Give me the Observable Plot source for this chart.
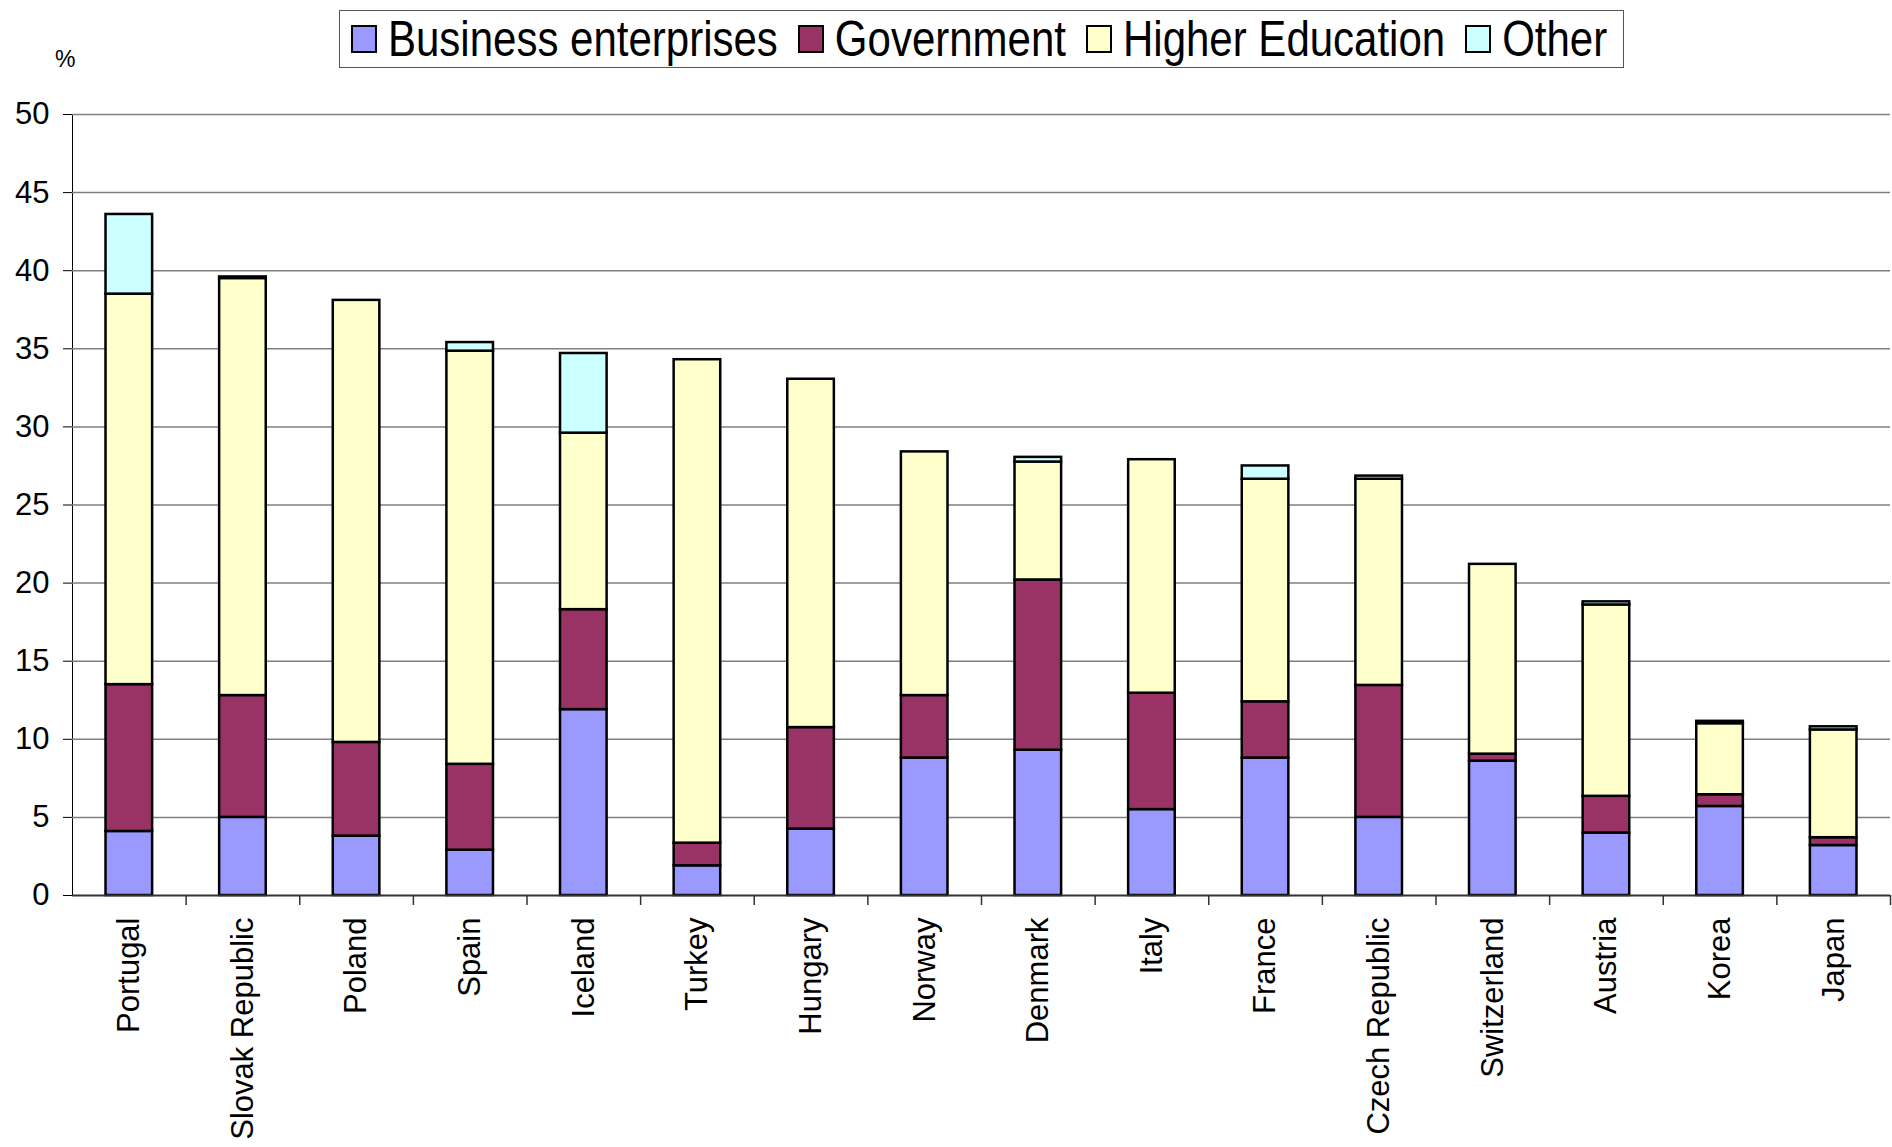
<!DOCTYPE html>
<html>
<head>
<meta charset="utf-8">
<script src="https://cdn.jsdelivr.net/npm/d3@7"></script>
<script src="https://cdn.jsdelivr.net/npm/@observablehq/plot@0.6"></script>
<style>
  body { margin: 0; background: #fff; font-family: "Liberation Sans", Arial, sans-serif; }
  #wrap { position: relative; width: 1892px; }
  #head { position: relative; height: 72px; }
  #pct { position: absolute; left: 55px; top: 46px; font-size: 23px; color: #000; }
  #legend { position: absolute; left: 339px; top: 10px; width: 1285px; height: 58px;
            border: 1.5px solid #555; box-sizing: border-box; display: flex; align-items: center;
            padding-left: 11px; }
  .item { display: flex; align-items: center; margin-right: 20px; }
  .sw { width: 26px; height: 28px; border: 2px solid #000; box-sizing: border-box; margin-right: 11px; }
  .lt { font-size: 42px; line-height: 1; display: inline-block; transform: scaleY(1.18); color: #000; white-space: nowrap; }
</style>
</head>
<body>
<div id="wrap">
  <div id="head">
    <div id="pct">%</div>
    <div id="legend"></div>
  </div>
  <div id="chart"></div>
</div>
<script>
const countries = ["Portugal","Slovak Republic","Poland","Spain","Iceland","Turkey","Hungary","Norway","Denmark","Italy","France","Czech Republic","Switzerland","Austria","Korea","Japan"];
const business        = [4.1, 5.0, 3.8, 2.9, 11.9, 1.9, 4.25, 8.8, 9.3, 5.5, 8.8, 5.0, 8.6, 4.0, 5.7, 3.2];
const government      = [9.4, 7.8, 6.0, 5.5, 6.4, 1.45, 6.5, 4.0, 10.9, 7.45, 3.6, 8.45, 0.45, 2.35, 0.75, 0.5];
const higherEducation = [25.0, 26.7, 28.3, 26.45, 11.3, 30.95, 22.3, 15.6, 7.55, 14.95, 14.25, 13.2, 12.15, 12.25, 4.55, 6.9];
const other           = [5.1, 0.1, 0, 0.55, 5.1, 0, 0, 0, 0.3, 0, 0.85, 0.2, 0, 0.2, 0.15, 0.2];
const sectors = ["Business enterprises", "Government", "Higher Education", "Other"];
const colors = ["#9999FF", "#993366", "#FFFFCC", "#CCFFFF"];
const yTicks = [0, 5, 10, 15, 20, 25, 30, 35, 40, 45, 50];

const series = [business, government, higherEducation, other];
const data = [];
countries.forEach((c, i) => {
  series.forEach((s, k) => {
    if (s[i] > 0) data.push({country: c, sector: sectors[k], value: s[i]});
  });
});

// legend
const leg = document.getElementById("legend");
sectors.forEach((s, k) => {
  const it = document.createElement("div");
  it.className = "item";
  const sw = document.createElement("div");
  sw.className = "sw";
  sw.style.background = colors[k];
  const t = document.createElement("span");
  t.className = "lt";
  t.textContent = s;
  it.appendChild(sw); it.appendChild(t);
  leg.appendChild(it);
});

const W = 1892, H = 1075, ML = 72, MR = 2, MT = 42, MB = 252;
const step = (W - ML - MR) / countries.length;

const chart = Plot.plot({
  width: W,
  height: H,
  marginLeft: ML,
  marginRight: MR,
  marginTop: MT,
  marginBottom: MB,
  style: {fontSize: "31px", fontFamily: "'Liberation Sans', Arial, sans-serif", color: "#000", background: "#fff"},
  x: {domain: countries, paddingInner: 0.59, paddingOuter: 0.295, round: false, tickSize: 0, tickRotate: -90, tickPadding: 22, label: null},
  y: {domain: [0, 50], ticks: yTicks, tickSize: 9, tickPadding: 14, line: true, label: null},
  color: {domain: sectors, range: colors},
  marks: [
    Plot.ruleY(yTicks.filter(d => d > 0), {stroke: "#7f7f7f", strokeWidth: 1.5}),
    Plot.barY(data, {x: "country", y: "value", fill: "sector", stroke: "#000", strokeWidth: 2.5}),
    Plot.ruleX(countries, {x: d => d, y1: () => 0, y2: () => 0, dx: step / 2, insetBottom: -10, stroke: "#333", strokeWidth: 1.5}),
    Plot.ruleY([0], {stroke: "#333", strokeWidth: 2})
  ]
});
document.getElementById("chart").appendChild(chart);
</script>
</body>
</html>
